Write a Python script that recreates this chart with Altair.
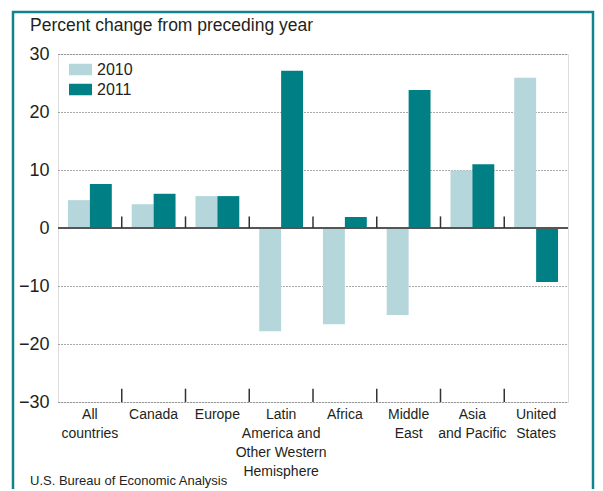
import altair as alt
import pandas as pd

categories = ["All|countries", "Canada", "Europe",
              "Latin|America and|Other Western|Hemisphere", "Africa",
              "Middle|East", "Asia|and Pacific", "United|States"]
years = ["2010", "2011"]
values_2010 = [4.8, 4.1, 5.5, -17.8, -16.6, -15.0, 9.9, 25.9]
values_2011 = [7.6, 5.9, 5.5, 27.1, 1.9, 23.8, 11.0, -9.3]
y_ticks = [-30, -20, -10, 0, 10, 20, 30]
title_text = "Percent change from preceding year"
source_text = "U.S. Bureau of Economic Analysis"

FONT = "Liberation Sans, Arial, Helvetica, sans-serif"
TEXT = "#231f20"
TEAL = "#11838a"
LIGHT = "#b5d6da"
DARK = "#007f85"

rows = []
for c, a, b in zip(categories, values_2010, values_2011):
    rows.append({"region": c, "year": years[0], "value": a})
    rows.append({"region": c, "year": years[1], "value": b})
df = pd.DataFrame(rows)

xscale = alt.Scale(domain=categories, paddingInner=0, paddingOuter=0)
yscale = alt.Scale(domain=[-30, 30], nice=False)

xaxis = alt.Axis(title=None, labelExpr="split(datum.label, '|')", labelAngle=0,
                 ticks=False, domain=False, labelFontSize=14, labelLineHeight=19,
                 labelPadding=5, labelBaseline="top", labelOverlap=False,
                 labelBound=False, labelColor=TEXT, labelFont=FONT, grid=False)
yaxis = alt.Axis(title=None, values=y_ticks, grid=True, gridDash=[1, 2],
                 gridColor="#555555", gridWidth=1, ticks=False, domain=False,
                 labelFontSize=18, labelPadding=9, labelColor=TEXT, labelFont=FONT)

frame = alt.Chart(pd.DataFrame({"k": [0]})).mark_rect(
    filled=False, stroke=TEAL, strokeWidth=2.5
).encode(x=alt.value(-45), x2=alt.value(535), y=alt.value(-42), y2=alt.value(460))

bars = alt.Chart(df).mark_bar().encode(
    x=alt.X("region:N", scale=xscale, axis=xaxis),
    xOffset=alt.XOffset("year:N", scale=alt.Scale(domain=years, paddingOuter=0.4545, paddingInner=0)),
    y=alt.Y("value:Q", scale=yscale, axis=yaxis),
    color=alt.Color("year:N", scale=alt.Scale(domain=years, range=[LIGHT, DARK]),
                    legend=alt.Legend(orient="none", legendX=11, legendY=4, title=None,
                                      symbolType="M-1,-0.5H1V0.5H-1Z", symbolSize=529,
                                      symbolStrokeWidth=0, symbolOpacity=1,
                                      labelFontSize=16, labelOffset=5, rowPadding=-3.5,
                                      padding=0, labelFont=FONT, labelColor=TEXT)),
)

zero = alt.Chart(pd.DataFrame({"v": [0]})).mark_rule(color="#555555", strokeWidth=2).encode(
    y=alt.Y("v:Q", scale=yscale, axis=yaxis)
)

bounds = pd.DataFrame({"region": categories[1:]})
ticks_zero = alt.Chart(bounds).mark_rule(color="#333333", strokeWidth=1.5).encode(
    x=alt.X("region:N", scale=xscale, axis=xaxis, bandPosition=0),
    y=alt.datum(0), y2=alt.datum(2),
)
ticks_bottom = alt.Chart(bounds).mark_rule(color="#333333", strokeWidth=1.5).encode(
    x=alt.X("region:N", scale=xscale, axis=xaxis, bandPosition=0),
    y=alt.datum(-30), y2=alt.datum(-27.7),
)

title = alt.Chart(pd.DataFrame({"t": [title_text]})).mark_text(
    align="left", baseline="middle", fontSize=17.5, font=FONT, color=TEXT
).encode(text="t:N", x=alt.value(-28), y=alt.value(-28))

source = alt.Chart(pd.DataFrame({"t": [source_text]})).mark_text(
    align="left", baseline="middle", fontSize=13, font=FONT, color=TEXT
).encode(text="t:N", x=alt.value(-28), y=alt.value(427))

chart = alt.layer(frame, bars, zero, ticks_zero, ticks_bottom, title, source).properties(
    width=510, height=348,
    autosize=alt.AutoSizeParams(type="none"),
    padding={"left": 50, "top": 46, "right": 27, "bottom": 87},
).configure_view(stroke=TEAL, strokeWidth=2.5).configure(background="white")

chart.save("out.html", embed_options={"renderer": "svg", "actions": False})
